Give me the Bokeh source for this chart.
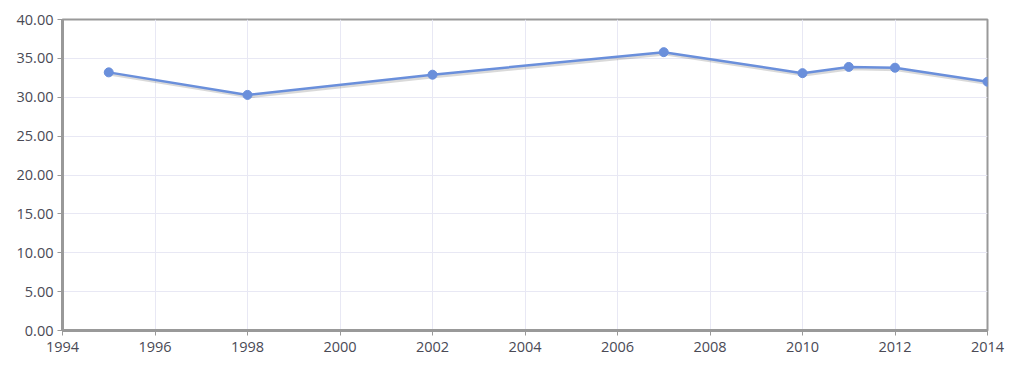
from bokeh.plotting import figure
from bokeh.models import ColumnDataSource, NumeralTickFormatter, FixedTicker, Range1d
from bokeh.transform import dodge
from bokeh.embed import file_html
from bokeh.resources import INLINE

years = [1995, 1998, 2002, 2007, 2010, 2011, 2012, 2014]
values = [33.2, 30.3, 32.9, 35.8, 33.1, 33.9, 33.8, 32.0]
x_ticks = list(range(1994, 2015, 2))
y_ticks = [0, 5, 10, 15, 20, 25, 30, 35, 40]

src = ColumnDataSource(dict(x=years, y=values))

p = figure(width=1023, height=376, output_backend="svg", toolbar_location=None,
           x_range=Range1d(1994, 2014), y_range=Range1d(0, 40),
           min_border_left=62, min_border_right=36, min_border_top=19, min_border_bottom=46)
p.background_fill_color = "white"
p.border_fill_color = "white"
p.outline_line_color = "#999999"
p.outline_line_width = 2

for ax in (p.xaxis[0], p.yaxis[0]):
    ax.axis_line_color = "#999999"
    ax.axis_line_width = 3
    ax.major_tick_line_color = "#999999"
    ax.major_tick_line_width = 1
    ax.major_tick_out = 5
    ax.major_tick_in = 0
    ax.minor_tick_line_color = None
    ax.major_label_text_font = "Open Sans"
    ax.major_label_text_font_size = "14.5px"
    ax.major_label_text_color = "#4a4a55"

p.xaxis.ticker = FixedTicker(ticks=x_ticks)
p.yaxis.ticker = FixedTicker(ticks=y_ticks)
p.yaxis.formatter = NumeralTickFormatter(format="0.00")
p.xaxis.major_label_standoff = 6
p.yaxis.major_label_standoff = 4

p.xgrid.grid_line_color = "#e8e8f4"
p.ygrid.grid_line_color = "#e8e8f4"
p.xgrid.ticker = FixedTicker(ticks=x_ticks)
p.ygrid.ticker = FixedTicker(ticks=y_ticks)

# shadow
p.line(x=dodge("x", 0.04, range=p.x_range), y=dodge("y", -0.25, range=p.y_range), source=src,
       line_color="#000000", line_alpha=0.15, line_width=3)
p.line(x="x", y="y", source=src, line_color="#6a8fdb", line_width=2.5)
p.scatter(x="x", y="y", source=src, size=9, fill_color="#6a8fdb", line_color="#6a8fdb")

open("out.html", "w").write(file_html(p, INLINE))
